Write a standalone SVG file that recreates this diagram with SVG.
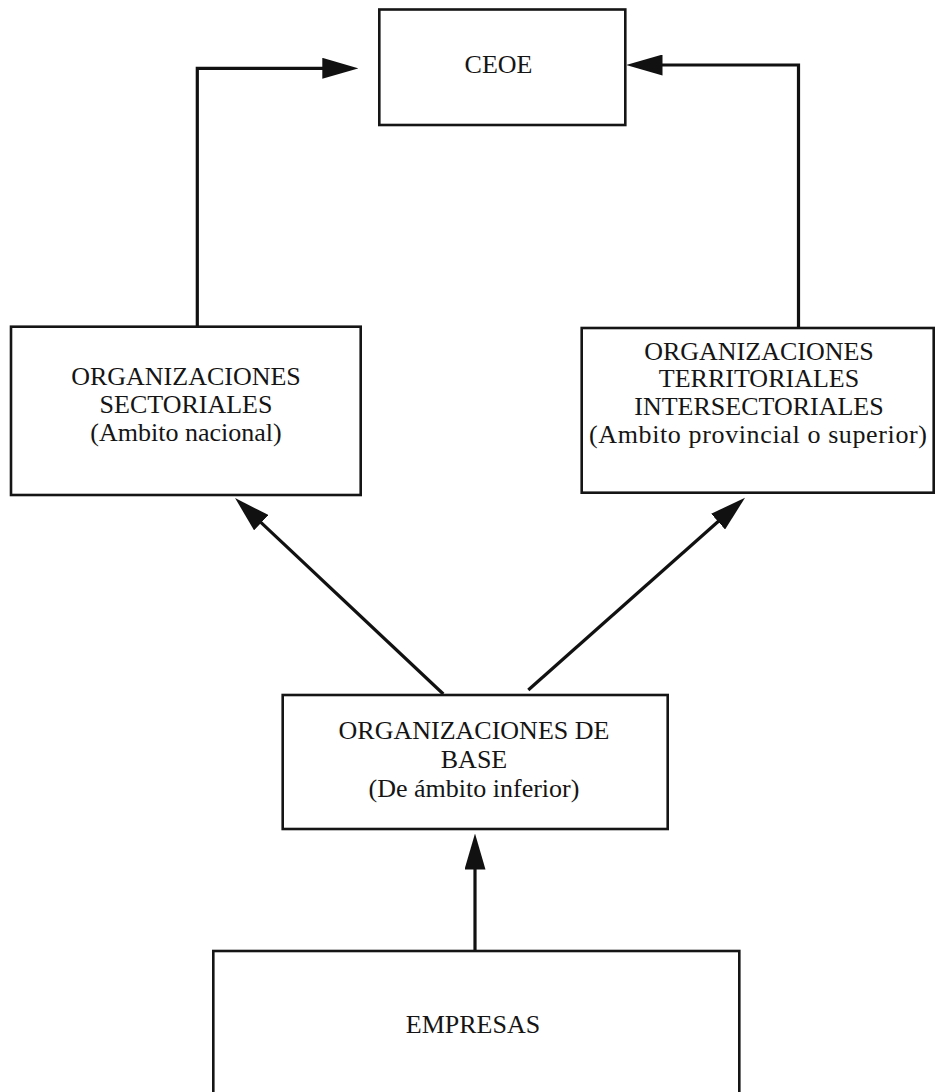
<svg xmlns="http://www.w3.org/2000/svg" width="935" height="1092" viewBox="0 0 935 1092">
<style>
.box{fill:#fff;stroke:#151515;stroke-width:2.6}
.lbl{font-family:"Liberation Serif","Times New Roman",serif;font-size:26px;fill:#151515;text-anchor:middle}
.conn{fill:none;stroke:#111;stroke-width:3.2}
</style>
<defs>
<marker id="arr" viewBox="0 0 36 21" refX="2" refY="10.5" markerWidth="36" markerHeight="21" markerUnits="userSpaceOnUse" orient="auto">
<path d="M0,0 L36,10.5 L0,21 z" fill="#111"/>
</marker>
</defs>
<rect width="935" height="1092" fill="#fff"/>
<g id="connectors">
<path class="conn" d="M197.3,327 V68.3 H324.3" marker-end="url(#arr)"/>
<path class="conn" d="M798.5,328 V65 H660.5" marker-end="url(#arr)"/>
<path class="conn" d="M443.3,694 L259.8,521.3" marker-end="url(#arr)"/>
<path class="conn" d="M528.3,690 L719.6,520.3" marker-end="url(#arr)"/>
<path class="conn" d="M475,951 V867.5" marker-end="url(#arr)"/>
</g>
<g id="ceoe">
<rect class="box" x="379.3" y="9.5" width="246" height="115.5"/>
<text class="lbl" x="498.5" y="73.3">CEOE</text>
</g>
<g id="sectoriales">
<rect class="box" x="11" y="326.7" width="349.7" height="168.3"/>
<text class="lbl" x="186" y="385">ORGANIZACIONES</text>
<text class="lbl" x="186" y="412.8">SECTORIALES</text>
<text class="lbl" x="186" y="440.5">(Ambito nacional)</text>
</g>
<g id="territoriales">
<rect class="box" x="581.7" y="328" width="352" height="164.7"/>
<text class="lbl" x="759" y="359.5">ORGANIZACIONES</text>
<text class="lbl" x="759" y="387.3">TERRITORIALES</text>
<text class="lbl" x="759" y="415">INTERSECTORIALES</text>
<text class="lbl" x="758" y="442.7" textLength="338" lengthAdjust="spacing">(Ambito provincial o superior)</text>
</g>
<g id="base">
<rect class="box" x="282.7" y="695" width="385" height="134"/>
<text class="lbl" x="474" y="739.3">ORGANIZACIONES DE</text>
<text class="lbl" x="474" y="768">BASE</text>
<text class="lbl" x="474" y="796.7">(De ámbito inferior)</text>
</g>
<g id="empresas">
<rect class="box" x="213.3" y="951" width="526" height="200"/>
<text class="lbl" x="473" y="1033">EMPRESAS</text>
</g>
</svg>
